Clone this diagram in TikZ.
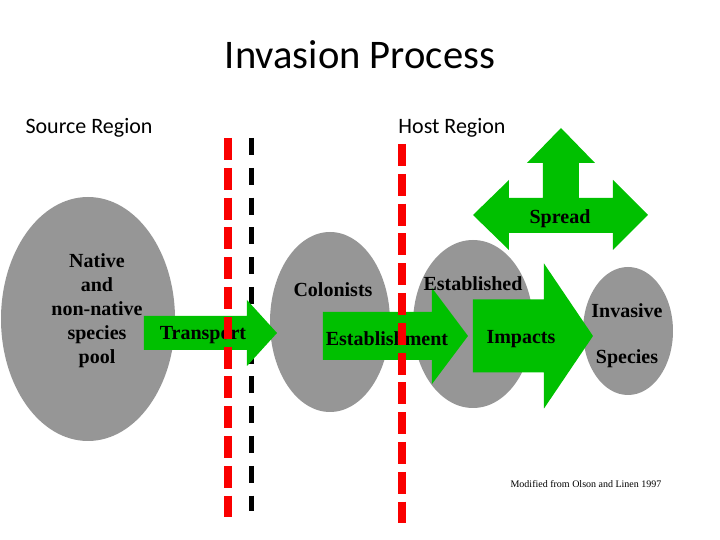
\documentclass[tikz,border=0pt]{standalone}
\usepackage{fontspec}
\setmainfont{Liberation Serif}
\newfontfamily\calibfont{Carlito}
\definecolor{blobgray}{RGB}{150,150,150}
\definecolor{arrowgreen}{RGB}{0,192,0}
\definecolor{borderred}{RGB}{250,0,0}
\begin{document}
\begin{tikzpicture}[x=0.5pt, y=-0.5pt,
  heading/.style={font=\calibfont\fontsize{11}{13}\selectfont},
  lbl/.style={font=\bfseries\fontsize{10}{12}\selectfont, align=center, inner sep=0pt},
  reddash/.style={draw=borderred, line width=4pt, dash pattern=on 11pt off 3.9pt},
  blackdash/.style={draw=black, line width=2.5pt, dash pattern=on 8.5pt off 6.4pt}]
  \useasboundingbox (0,0) rectangle (720,540);
  % titles
  \node[font=\calibfont\fontsize{20.3}{24}\selectfont] (title) at (360,55) {Invasion Process};
  \node[heading] (source) at (89,128) {Source Region};
  \node[heading] (host) at (452,128) {Host Region};
  % species pools
  \foreach \x/\y/\a/\b in {88/319/87/122, 330/322/60/90, 473/324/60/84, 628/331/45/64} \fill[blobgray] (\x,\y) ellipse ({\a} and {\b});
  % border behind the arrows
  \draw[blackdash] (252,138) -- (252,511);
  % stage arrows
  \foreach \xl/\xh/\xt/\yc/\bh/\hh in {144/247/277/333/17/33, 323/432/468/336/24/48, 473/544/593/336/36.5/72.5}
    \fill[arrowgreen] (\xl,\yc-\bh) -- (\xh,\yc-\bh) -- (\xh,\yc-\hh) -- (\xt,\yc) -- (\xh,\yc+\hh) -- (\xh,\yc+\bh) -- (\xl,\yc+\bh) -- cycle;
  \fill[arrowgreen] (473,215) -- (509,180) -- (509,198) -- (543,198) -- (543,163) -- (527,163) -- (561,128) -- (595,163) -- (579,163) -- (579,198) -- (613,198) -- (613,180) -- (648,215) -- (613,250) -- (613,233) -- (509,233) -- (509,250) -- cycle;
  % labels
  \node[lbl] (spread) at (560,219) {Spread};
  \node[lbl] (pool) at (97,311) {Native\\and\\non-native\\species\\pool};
  \node[lbl] (transport) at (203,335) {Transport};
  \node[lbl] (colonists) at (333,290) {Colonists};
  \node[lbl] (established) at (473,284) {Established};
  \node[lbl] (establishment) at (387,339) {Establishment};
  \node[lbl] (impacts) at (521,339) {Impacts};
  \node[lbl] (invasive) at (627,311) {Invasive};
  \node[lbl] (species) at (627,359) {Species};
  \node[font=\fontsize{5}{6}\selectfont] (credit) at (586,484) {Modified from Olson and Linen 1997};
  % region borders on top
  \draw[reddash] (228,138) -- (228,517);
  \draw[reddash] (402,144) -- (402,523);
\end{tikzpicture}
\end{document}
